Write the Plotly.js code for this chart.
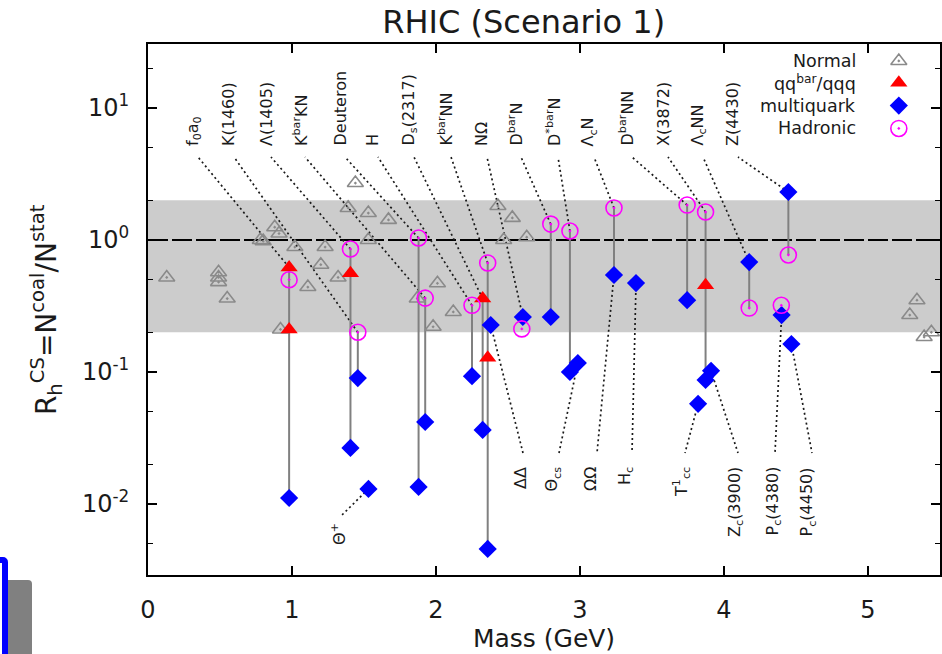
<!DOCTYPE html>
<html>
<head>
<meta charset="utf-8">
<script src="https://cdn.plot.ly/plotly-3.0.1.min.js"></script>
<style>
  html, body { margin: 0; padding: 0; background: #ffffff; }
  #chart { width: 942px; height: 654px; }
  .tab-blue { position: absolute; left: -30px; top: 557px; width: 38px; height: 130px;
              box-sizing: border-box; border: 6px solid #0000ff; border-radius: 5px; }
  .tab-gray { position: absolute; left: 8px; top: 580px; width: 24px; height: 80px;
              background: #808080; border-radius: 0 4px 0 0; }
</style>
</head>
<body>
<div id="chart"></div>
<div class="tab-blue"></div>
<div class="tab-gray"></div>
<script>
// ---- data: hadron masses (GeV) and yield ratios R = N_coal / N_stat ----
const normalMass = [0.13, 0.49, 0.49, 0.49, 0.55, 0.78, 0.80, 0.88, 0.91, 1.02, 1.11, 1.20, 1.23,
                    1.32, 1.39, 1.44, 1.53, 1.53, 1.67, 0.92, 1.87, 2.01, 1.98, 2.12, 2.43, 2.53,
                    2.47, 2.63, 5.34, 5.29, 5.39, 5.44];
const normalR    = [0.52, 0.57, 0.52, 0.48, 0.36, 1.0, 0.98, 1.25, 1.12, 0.885, 0.44, 0.65, 0.885,
                    0.52, 1.75, 2.7, 1.6, 1.0, 1.42, 0.21, 0.36, 0.47, 0.22, 0.285, 1.81, 1.47,
                    1.0, 1.05, 0.35, 0.27, 0.184, 0.20];

const qqMass = [0.98, 0.98, 1.406, 2.324, 2.359, 3.872];
const qqR    = [0.62, 0.21, 0.56, 0.36, 0.128, 0.455];

const multiMass = [0.98, 1.406, 1.457, 1.531, 1.879, 1.925, 2.25, 2.324, 2.359, 2.38, 2.603, 2.797,
                   2.93, 2.985, 3.236, 3.389, 3.744, 3.82, 3.872, 3.91, 4.175, 4.40, 4.447, 4.468];
const multiR    = [0.0111, 0.0266, 0.090, 0.0130, 0.01346, 0.0418, 0.093, 0.0364, 0.00457, 0.227,
                   0.261, 0.261, 0.100, 0.117, 0.543, 0.472, 0.35, 0.0574, 0.087, 0.102, 0.68,
                   0.27, 2.31, 0.163];

const hadMass = [0.98, 1.406, 1.457, 1.879, 1.925, 2.25, 2.359, 2.596, 2.797, 2.93, 3.236, 3.744,
                 3.872, 4.175, 4.398, 4.447];
const hadR    = [0.50, 0.855, 0.20, 1.035, 0.363, 0.32, 0.67, 0.212, 1.32, 1.17, 1.75, 1.84,
                 1.63, 0.305, 0.32, 0.77];

// scenario pairs for the same state: [series, index] upper -> lower
const linkUpper = [['qq',0],['had',1],['had',2],['had',3],['had',4],['had',5],['qq',3],['had',6],
                   ['had',8],['had',9],['had',10],['had',11],['had',12],['multi',20],['multi',22]];
const linkLower = [['multi',0],['multi',1],['multi',2],['multi',4],['multi',5],['multi',6],['multi',7],
                   ['multi',8],['multi',11],['multi',12],['multi',14],['multi',16],['multi',18],
                   ['had',13],['had',15]];

// state names written above the frame
const topNames  = ['f<sub>0</sub>a<sub>0</sub>', 'K(1460)', 'Λ(1405)', 'K<sup>bar</sup>KN', 'Deuteron', 'H',
                   'D<sub>s</sub>(2317)', 'K<sup>bar</sup>NN', 'NΩ', 'D<sup>bar</sup>N', 'D<sup>*bar</sup>N',
                   'Λ<sub>c</sub>N', 'D<sup>bar</sup>NN', 'X(3872)', 'Λ<sub>c</sub>NN', 'Z(4430)'];
const topTarget = [['qq',0],['had',2],['had',1],['had',4],['had',3],['had',5],['qq',3],['had',6],
                   ['multi',10],['had',8],['had',9],['had',10],['had',11],['had',12],['multi',20],['multi',22]];
// state names written below the points
const lowNames  = ['ΔΔ', 'Θ<sub>cs</sub>', 'ΩΩ', 'H<sub>c</sub>', 'T<sup>1</sup><sub>cc</sub>',
                   'Z<sub>c</sub>(3900)', 'P<sub>c</sub>(4380)', 'P<sub>c</sub>(4450)', 'Θ<sup>+</sup>'];
const lowTarget = [['multi',9],['multi',13],['multi',14],['multi',15],['multi',17],['multi',19],
                   ['multi',21],['multi',23],['multi',3]];

const legendNames = ['Normal', 'qq<sup>bar</sup>/qqq', 'multiquark', 'Hadronic'];

// ---- layout geometry ----
const FIG = { w: 942, h: 654, l: 148, r: 2, t: 44, b: 79 };
const X_RANGE = [0, 5.5];
const Y_RANGE = [-2.538, 1.485];
const FONT = 'DejaVu Sans, Liberation Sans, Arial, sans-serif';

// label columns (px) for the names above / below
const topLabelX  = [193, 229, 266, 300, 340, 373, 409, 446, 482, 516, 553, 589, 627, 663, 698, 733];
const topLeaderDx = 5, topLabelBottom = 148, topLeaderTop = 157;
const lowLabelX  = [520, 553, 591, 626, 681, 736, 773, 808, 338];
const lowLeaderX = [523, 559, 597, 632, 685, 738, 775, 812, 342];
const lowLeaderY = [453, 453, 453, 453, 453, 453, 453, 453, 515];
const lowLabelTop = [465, 465, 465, 465, 465, 465, 465, 465, 521];

const series = {
  normal: { m: normalMass, r: normalR },
  qq:     { m: qqMass, r: qqR },
  multi:  { m: multiMass, r: multiR },
  had:    { m: hadMass, r: hadR }
};
const plotW = FIG.w - FIG.l - FIG.r, plotH = FIG.h - FIG.t - FIG.b;
function pt(ref) { const s = series[ref[0]]; return [s.m[ref[1]], s.r[ref[1]]]; }
function pxOf(m) { return FIG.l + (m - X_RANGE[0]) / (X_RANGE[1] - X_RANGE[0]) * plotW; }
function pyOf(v) { return FIG.t + (Y_RANGE[1] - Math.log10(v)) / (Y_RANGE[1] - Y_RANGE[0]) * plotH; }
// pixel position of a label anchor -> axis values
function mOfPx(px) { return X_RANGE[0] + (px - FIG.l) / plotW * (X_RANGE[1] - X_RANGE[0]); }
function vOfPy(py) { return Math.pow(10, Y_RANGE[1] - (py - FIG.t) / plotH * (Y_RANGE[1] - Y_RANGE[0])); }

// ---- traces ----
const linkX = [], linkY = [];
linkUpper.forEach((u, i) => {
  const a = pt(u), b = pt(linkLower[i]);
  linkX.push(a[0], b[0], null); linkY.push(a[1], b[1], null);
});

// dotted leaders from each named point to its label
const leadX = [], leadY = [];
topTarget.forEach((ref, i) => {
  const a = pt(ref);
  leadX.push(a[0], mOfPx(topLabelX[i] + topLeaderDx), null);
  leadY.push(a[1], vOfPy(topLeaderTop), null);
});
lowTarget.forEach((ref, i) => {
  const a = pt(ref);
  leadX.push(a[0], mOfPx(lowLeaderX[i]), null);
  leadY.push(a[1], vOfPy(lowLeaderY[i]), null);
});

const styles = {
  normal: { symbol: 'triangle-up-open-dot', size: 14, color: '#8a8a8a', line: { color: '#8a8a8a', width: 1.6 } },
  qq:     { symbol: 'triangle-up', size: 15, color: '#ff0000', line: { width: 0 } },
  multi:  { symbol: 'diamond', size: 14, color: '#0000ff', line: { width: 0 } },
  had:    { symbol: 'circle-open-dot', size: 16, color: '#ff00ff', line: { color: '#ff00ff', width: 1.6 } }
};

const traces = [
  { x: leadX, y: leadY, mode: 'lines', line: { color: '#1a1a1a', width: 1.7, dash: '2px,3px' },
    hoverinfo: 'skip', showlegend: false, cliponaxis: false },
  { x: linkX, y: linkY, mode: 'lines', line: { color: '#808080', width: 2 }, hoverinfo: 'skip', showlegend: false },
  { x: normalMass, y: normalR, mode: 'markers', name: 'Normal', marker: styles.normal, showlegend: false },
  { x: qqMass, y: qqR, mode: 'markers', name: 'qq/qqq', marker: styles.qq, showlegend: false },
  { x: multiMass, y: multiR, mode: 'markers', name: 'multiquark', marker: styles.multi, showlegend: false },
  { x: hadMass, y: hadR, mode: 'markers', name: 'Hadronic', marker: styles.had, showlegend: false }
];

// key symbols, drawn on a hidden unit axis pair
const keyX = 0.948, keyY = [0.968, 0.927, 0.884, 0.841];
['normal', 'qq', 'multi', 'had'].forEach((k, i) => {
  traces.push({ x: [keyX], y: [keyY[i]], xaxis: 'x2', yaxis: 'y2', mode: 'markers',
                marker: styles[k], showlegend: false, hoverinfo: 'skip' });
});

// ---- shapes & annotations ----
const shapes = [
  { type: 'rect', xref: 'paper', yref: 'y', x0: 0, x1: 1, y0: 0.2, y1: 2,
    fillcolor: '#cccccc', line: { width: 0 }, layer: 'below' },
  { type: 'line', xref: 'paper', yref: 'y', x0: 0, x1: 1, y0: 1, y1: 1,
    line: { color: '#000000', width: 2, dash: '20px,4px' }, layer: 'below' }
];
const annotations = [];
const labelFont = { family: FONT, size: 16, color: '#1a1a1a' };

topNames.forEach((name, i) => {
  const [m, v] = pt(topTarget[i]);
  annotations.push({ x: m, y: Math.log10(v), xref: 'x', yref: 'y', text: name, showarrow: false,
                     textangle: -90, xanchor: 'center', yanchor: 'bottom',
                     xshift: topLabelX[i] - pxOf(m), yshift: pyOf(v) - topLabelBottom, font: labelFont });
});
lowNames.forEach((name, i) => {
  const [m, v] = pt(lowTarget[i]);
  annotations.push({ x: m, y: Math.log10(v), xref: 'x', yref: 'y', text: name, showarrow: false,
                     textangle: -90, xanchor: 'center', yanchor: 'top',
                     xshift: lowLabelX[i] - pxOf(m), yshift: pyOf(v) - lowLabelTop[i], font: labelFont });
});

legendNames.forEach((name, i) => {
  annotations.push({ x: 0.8965, y: keyY[i], xref: 'paper', yref: 'paper', text: name,
                     showarrow: false, xanchor: 'right', yanchor: 'middle',
                     font: { family: FONT, size: 17.5, color: '#1a1a1a' } });
});

// y-axis title
annotations.push({ x: -0.128, y: 0.5, xref: 'paper', yref: 'paper', showarrow: false,
                   text: 'R<sub>h</sub><sup>CS</sup>=N<sup>coal</sup>/N<sup>stat</sup>',
                   textangle: -90, xanchor: 'center', yanchor: 'middle',
                   font: { family: FONT, size: 28, color: '#1a1a1a' } });

const yMinor = [];
[0.001, 0.01, 0.1, 1, 10].forEach(d => { yMinor.push(2 * d, 5 * d); });

const layout = {
  width: FIG.w, height: FIG.h,
  margin: { l: FIG.l, r: FIG.r, t: FIG.t, b: FIG.b },
  paper_bgcolor: '#ffffff', plot_bgcolor: '#ffffff',
  font: { family: FONT, color: '#1a1a1a' },
  showlegend: false,
  title: { text: 'RHIC (Scenario 1)', xref: 'container', x: 0.556, xanchor: 'center',
           yref: 'container', y: 0.966, yanchor: 'middle',
           font: { family: FONT, size: 32, color: '#1a1a1a' } },
  xaxis: {
    range: X_RANGE, showgrid: false, zeroline: false,
    showline: true, mirror: 'ticks', linecolor: '#000000', linewidth: 2,
    ticks: 'inside', ticklen: 9, tickwidth: 1.6, tickcolor: '#000000',
    tickmode: 'array', tickvals: [0, 1, 2, 3, 4, 5], ticktext: ['0', '1', '2', '3', '4', '5'],
    ticklabelstandoff: 12,
    tickfont: { family: FONT, size: 24, color: '#1a1a1a' },
    title: { text: 'Mass (GeV)', standoff: 4, font: { family: FONT, size: 25, color: '#1a1a1a' } }
  },
  yaxis: {
    type: 'log', range: Y_RANGE, showgrid: false, zeroline: false,
    showline: true, mirror: 'ticks', linecolor: '#000000', linewidth: 2,
    ticks: 'inside', ticklen: 9, tickwidth: 1.6, tickcolor: '#000000',
    tickmode: 'array', tickvals: [0.01, 0.1, 1, 10],
    ticktext: ['10<sup>-2</sup>', '10<sup>-1</sup>', '10<sup>0</sup>', '10<sup>1</sup>'],
    ticklabelstandoff: 12,
    tickfont: { family: FONT, size: 24, color: '#1a1a1a' },
    minor: { tickmode: 'array', tickvals: yMinor, ticks: 'inside', ticklen: 5, tickwidth: 1.4, tickcolor: '#000000' }
  },
  xaxis2: { overlaying: 'x', range: [0, 1], visible: false, anchor: 'y2' },
  yaxis2: { overlaying: 'y', range: [0, 1], visible: false, anchor: 'x2' },
  shapes: shapes,
  annotations: annotations
};

Plotly.newPlot('chart', traces, layout, { displayModeBar: false, staticPlot: true });
</script>
</body>
</html>
